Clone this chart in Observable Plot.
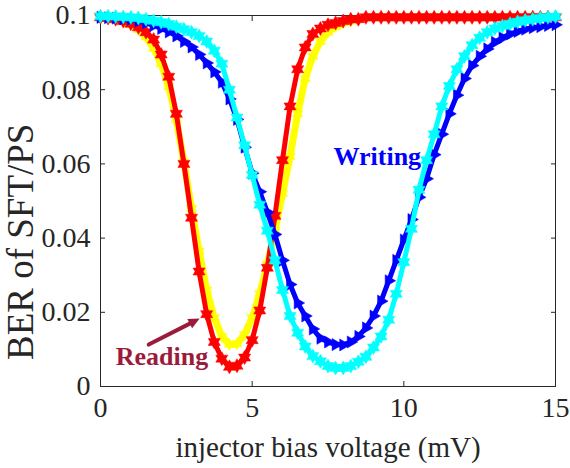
<!DOCTYPE html>
<html>
<head>
<meta charset="utf-8">
<script src="https://cdn.jsdelivr.net/npm/d3@7"></script>
<script src="https://cdn.jsdelivr.net/npm/@observablehq/plot@0.6"></script>
<style>
  html, body { margin: 0; padding: 0; background: #fff; }
  #chart { width: 570px; height: 468px; }
</style>
</head>
<body>
<div id="chart"></div>
<script>
// x grid (injector bias voltage, mV)
const voltage = [0,0.25,0.5,0.75,1,1.25,1.5,1.75,2,2.25,2.5,2.75,3,3.25,3.5,3.75,4,4.25,4.5,4.75,5,5.25,5.5,5.75,6,6.25,6.5,6.75,7,7.25,7.5,7.75,8,8.25,8.5,8.75,9,9.25,9.5,9.75,10,10.25,10.5,10.75,11,11.25,11.5,11.75,12,12.25,12.5,12.75,13,13.25,13.5,13.75,14,14.25,14.5,14.75,15];

// Reading (yellow, behind)
const readingYellow = [0.0995,0.0993,0.099,0.0983,0.0975,0.0962,0.0942,0.0912,0.087,0.0808,0.072,0.0605,0.048,0.0365,0.026,0.0185,0.0135,0.0113,0.0115,0.014,0.0185,0.025,0.033,0.042,0.052,0.062,0.0735,0.083,0.089,0.093,0.0955,0.097,0.098,0.0985,0.099,0.0995,0.0995,0.0995,0.0995,0.0995,0.0995,0.0995,0.0995,0.0995,0.0995,0.0995,0.0995,0.0995,0.0995,0.0995,0.0995,0.0995,0.0995,0.0995,0.0995,0.0995,0.0995,0.0995,0.0995,0.0995,0.0995];
// Reading (red, hexagram markers)
const readingRed = [0.0995,0.0993,0.099,0.0985,0.0978,0.0968,0.0955,0.0935,0.0895,0.0835,0.0735,0.060,0.0455,0.031,0.0195,0.012,0.0075,0.0053,0.0056,0.0078,0.0125,0.0205,0.032,0.046,0.061,0.0755,0.0855,0.0914,0.095,0.0965,0.0975,0.098,0.0985,0.099,0.099,0.0995,0.0995,0.0995,0.0995,0.0995,0.0995,0.0995,0.0995,0.0995,0.0995,0.0995,0.0995,0.0995,0.0995,0.0995,0.0995,0.0995,0.0995,0.0995,0.0995,0.0995,0.0995,0.0995,0.0995,0.0995,0.0995];
// Writing (blue, right-pointing triangles)
const writingBlue = [0.0995,0.0994,0.0993,0.0991,0.099,0.0985,0.098,0.0973,0.0965,0.0956,0.0945,0.093,0.0915,0.0895,0.0872,0.0848,0.082,0.0775,0.072,0.0645,0.0575,0.0525,0.047,0.041,0.034,0.0275,0.0225,0.019,0.0155,0.013,0.012,0.0113,0.0112,0.012,0.0135,0.0158,0.019,0.023,0.0285,0.034,0.0395,0.045,0.051,0.056,0.0625,0.068,0.0735,0.0785,0.083,0.0865,0.089,0.091,0.0928,0.094,0.095,0.0957,0.0963,0.0967,0.097,0.0973,0.0975];
// Writing (cyan, hexagram markers)
const writingCyan = [0.0998,0.0998,0.0997,0.0996,0.0995,0.0993,0.099,0.0986,0.0982,0.0977,0.097,0.0963,0.0955,0.0945,0.093,0.0905,0.087,0.080,0.0725,0.065,0.057,0.049,0.042,0.034,0.026,0.019,0.0145,0.0108,0.0082,0.0068,0.0055,0.005,0.005,0.0055,0.0067,0.008,0.0105,0.0135,0.018,0.025,0.0335,0.0425,0.053,0.061,0.068,0.0755,0.081,0.0855,0.089,0.092,0.094,0.0955,0.0965,0.0972,0.0978,0.0983,0.0987,0.099,0.0993,0.0995,0.0997];

// ticks
const xTicks = [0, 5, 10, 15];
const xTickLabels = ["0", "5", "10", "15"];
const yTicks = [0, 0.02, 0.04, 0.06, 0.08, 0.1];
const yTickLabels = ["0", "0.02", "0.04", "0.06", "0.08", "0.1"];

// annotations
const noteLabels = ["Reading", "Writing"];
const noteX = [0.5, 7.68];
const noteY = [0.008, 0.0619];
const noteColors = ["#9b1b3d", "#0000ff"];
const arrowStart = [1.59, 0.0113];
const arrowEnd = [3.27, 0.0183];

const xLabel = "injector bias voltage (mV)";
const yLabel = "BER of SFT/PS";
const yLabelCenter = 0.039;

// symbols
const hexagram = {
  draw(ctx, size) {
    const r = Math.sqrt(size / Math.PI), ri = r / Math.sqrt(3);
    for (let i = 0; i < 12; i++) {
      const a = -Math.PI / 2 + i * Math.PI / 6, rr = i % 2 ? ri : r;
      const px = rr * Math.cos(a), py = rr * Math.sin(a);
      if (i === 0) ctx.moveTo(px, py); else ctx.lineTo(px, py);
    }
    ctx.closePath();
  }
};
const triRight = {
  draw(ctx, size) {
    const r = Math.sqrt(size / Math.PI);
    ctx.moveTo(r, 0);
    ctx.lineTo(-r * 0.5, -r * 0.866);
    ctx.lineTo(-r * 0.5, r * 0.866);
    ctx.closePath();
  }
};
const arrowHead = {
  draw(ctx, size) {
    const r = Math.sqrt(size / Math.PI);
    ctx.moveTo(0, 0);
    ctx.lineTo(-1.6 * r, -0.75 * r);
    ctx.lineTo(-1.6 * r, 0.75 * r);
    ctx.closePath();
  }
};

const series = (ys) => voltage.map((x, i) => ({x, y: ys[i]}));
const yellowData = series(readingYellow);
const redData = series(readingRed);
const blueData = series(writingBlue);
const cyanData = series(writingCyan);
const notes = noteLabels.map((t, i) => ({t, x: noteX[i], y: noteY[i], c: noteColors[i]}));
const arrowData = [{x1: arrowStart[0], y1: arrowStart[1], x2: arrowEnd[0], y2: arrowEnd[1]}];

const ink = "#262626";
const blank = () => "";

const chart = Plot.plot({
  width: 570,
  height: 468,
  marginLeft: 100,
  marginRight: 15,
  marginTop: 15,
  marginBottom: 82,
  style: {fontFamily: "'Liberation Serif', 'Times New Roman', serif", background: "#fff", overflow: "visible"},
  x: {domain: [0, 15]},
  y: {domain: [0, 0.1]},
  marks: [
    Plot.axisX(xTicks, {anchor: "bottom", tickSize: -5, tickPadding: 16, tickFormat: (d, i) => xTickLabels[i], fontSize: 28, color: ink, label: null}),
    Plot.axisX(xTicks, {anchor: "top", tickSize: -5, tickFormat: blank, color: ink, label: null}),
    Plot.axisY(yTicks, {anchor: "left", tickSize: -5, tickPadding: 15, tickFormat: (d, i) => yTickLabels[i], fontSize: 28, color: ink, label: null}),
    Plot.axisY(yTicks, {anchor: "right", tickSize: -5, tickFormat: blank, color: ink, label: null}),
    Plot.frame({stroke: ink, strokeWidth: 1}),
    // Reading
    Plot.line(yellowData, {x: "x", y: "y", stroke: "#ffff00", strokeWidth: 7}),
    Plot.dot(yellowData, {x: "x", y: "y", symbol: hexagram, r: 6, fill: "#ffff00", stroke: "#ffff00", strokeWidth: 0.5}),
    Plot.line(redData, {x: "x", y: "y", stroke: "#ff0000", strokeWidth: 5}),
    Plot.dot(redData, {x: "x", y: "y", symbol: hexagram, r: 7, fill: "#ff0000", stroke: "#ff0000", strokeWidth: 0.5}),
    // Writing
    Plot.line(blueData, {x: "x", y: "y", stroke: "#0000ff", strokeWidth: 5}),
    Plot.dot(blueData, {x: "x", y: "y", symbol: triRight, r: 7, fill: "#0000ff", stroke: "#0000ff", strokeWidth: 0.5}),
    Plot.line(cyanData, {x: "x", y: "y", stroke: "#00ffff", strokeWidth: 5}),
    Plot.dot(cyanData, {x: "x", y: "y", symbol: hexagram, r: 7, fill: "#00ffff", stroke: "#00ffff", strokeWidth: 0.5}),
    // annotations
    Plot.arrow(arrowData, {x1: "x1", y1: "y1", x2: "x2", y2: "y2", stroke: "#9b1b3d", strokeWidth: 4, headLength: 0, insetEnd: 10, bend: 0}),
    Plot.dot(arrowData, {x: "x2", y: "y2", symbol: arrowHead, r: 7, fill: "#9b1b3d", rotate: -27}),
    Plot.text(notes, {x: "x", y: "y", text: "t", fill: "c", textAnchor: "start", lineAnchor: "middle", fontSize: 26, fontWeight: "bold"}),
    // axis labels
    Plot.text([xLabel], {frameAnchor: "bottom", text: d => d, lineAnchor: "top", dy: 50, fontSize: 29, fill: ink}),
    Plot.text([yLabel], {frameAnchor: "left", y: () => yLabelCenter, text: d => d, rotate: -90, lineAnchor: "middle", textAnchor: "middle", dx: -79, fontSize: 37, fill: ink})
  ]
});
document.getElementById("chart").appendChild(chart);
</script>
</body>
</html>
